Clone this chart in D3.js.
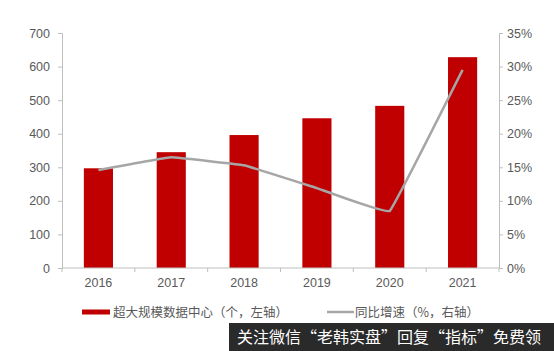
<!DOCTYPE html>
<html>
<head>
<meta charset="utf-8">
<script src="https://cdn.jsdelivr.net/npm/d3@7"></script>
<style>
  body { margin: 0; background: #fff; }
  svg { display: block; font-family: "Liberation Sans", Arial, "Noto Sans CJK SC", sans-serif; }
</style>
</head>
<body>
<div class="svg"></div>
<script>
const years = ["2016", "2017", "2018", "2019", "2020", "2021"];
const centers = [297, 345, 396, 446, 483, 628];
const growth = [14.6, 16.5, 15.3, 11.9, 8.5, 29.5];
const leftTicks = [0, 100, 200, 300, 400, 500, 600, 700];
const rightTicks = [0, 5, 10, 15, 20, 25, 30, 35];
const barLabel = "超大规模数据中心（个，左轴）";
const lineLabel = "同比增速（%，右轴）";
const noteText = "关注微信“老韩实盘”回复“指标”免费领";

const w = 554;
const h = 351;
const plotLeft = 62, plotRight = 499, plotTop = 33, plotBottom = 268;
const axisColor = "#bfbfbf";
const textColor = "#595959";

const svg = d3.select('.svg')
    .append('svg')
    .attr("width", w)
    .attr("height", h);

const xScale = d3.scaleBand()
    .domain(years)
    .range([plotLeft, plotRight])
    .paddingInner(0.6)
    .paddingOuter(0.3);

const yLeft = d3.scaleLinear().domain([0, 700]).range([plotBottom, plotTop]);
const yRight = d3.scaleLinear().domain([0, 35]).range([plotBottom, plotTop]);

// bars
svg.selectAll("rect.bar")
    .data(centers)
    .enter()
    .append("rect")
    .attr("class", "bar")
    .attr("x", (d, i) => xScale(years[i]))
    .attr("y", d => yLeft(d))
    .attr("width", xScale.bandwidth())
    .attr("height", d => plotBottom - yLeft(d))
    .attr("fill", "#c00000");

// axes
const leftAxis = d3.axisLeft(yLeft).tickValues(leftTicks).tickSize(4).tickPadding(8);
const gl = svg.append("g").attr("transform", "translate(" + plotLeft + ",0)").call(leftAxis);

const rightAxis = d3.axisRight(yRight).tickValues(rightTicks).tickSize(4).tickPadding(4)
    .tickFormat(d => d + "%");
const gr = svg.append("g").attr("transform", "translate(" + plotRight + ",0)").call(rightAxis);

const xAxis = d3.axisBottom(xScale).tickSize(0).tickPadding(10);
const gx = svg.append("g").attr("transform", "translate(0," + plotBottom + ")").call(xAxis);

// tick marks between categories on x axis
const bounds = d3.range(years.length + 1).map(i => plotLeft + i * (plotRight - plotLeft) / years.length);
gx.selectAll("line.sep")
    .data(bounds)
    .enter()
    .append("line")
    .attr("class", "sep")
    .attr("x1", d => d).attr("x2", d => d)
    .attr("y1", 0).attr("y2", 4)
    .attr("stroke", axisColor);

[gl, gr, gx].forEach(g => {
    g.select(".domain").attr("stroke", axisColor).attr("stroke-width", 1);
    g.selectAll(".tick line").attr("stroke", axisColor);
    g.selectAll("text").attr("fill", textColor).style("font-size", "12.5px")
        .style("font-family", "'Liberation Sans', Arial, sans-serif");
});
gx.select(".domain").attr("d", "M" + plotLeft + ",0H" + plotRight);

// growth line
const line = d3.line()
    .x((d, i) => xScale(years[i]) + xScale.bandwidth() / 2)
    .y(d => yRight(d))
    .curve(d3.curveCardinal.tension(0.85));

svg.append("path")
    .datum(growth)
    .attr("d", line)
    .attr("fill", "none")
    .attr("stroke", "#a6a6a6")
    .attr("stroke-width", 2.5);

// legend
const legY = 312;
svg.append("rect")
    .attr("x", 82).attr("y", legY - 2.5)
    .attr("width", 28).attr("height", 5)
    .attr("fill", "#c00000");
svg.append("text")
    .attr("x", 113).attr("y", legY + 4.5)
    .attr("fill", textColor)
    .style("font-size", "12.5px")
    .style("font-family", "'Noto Sans CJK SC', sans-serif")
    .text(barLabel);
svg.append("line")
    .attr("x1", 327).attr("x2", 354)
    .attr("y1", legY).attr("y2", legY)
    .attr("stroke", "#a6a6a6")
    .attr("stroke-width", 2.5);
svg.append("text")
    .attr("x", 355).attr("y", legY + 4.5)
    .attr("fill", textColor)
    .style("font-size", "12.5px")
    .style("font-family", "'Noto Sans CJK SC', sans-serif")
    .text(lineLabel);

// overlay note
svg.append("rect")
    .attr("x", 229).attr("y", 323)
    .attr("width", w - 229).attr("height", h - 323)
    .attr("fill", "#2a2a2a");
svg.append("text")
    .attr("x", 237).attr("y", 343)
    .attr("fill", "#ffffff")
    .style("font-size", "16px")
    .style("font-family", "'Noto Sans CJK SC', sans-serif")
    .text(noteText);
</script>
</body>
</html>
